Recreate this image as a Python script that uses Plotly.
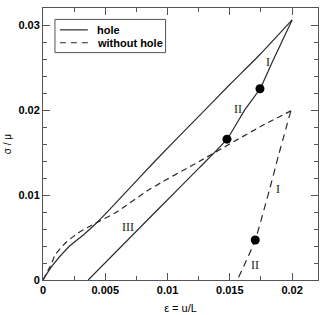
import plotly.graph_objects as go

# ---- data ----
hole_load_x = [0, 0.0007, 0.002, 0.0034, 0.0045, 0.006, 0.009, 0.0126, 0.015, 0.0174, 0.02]
hole_load_y = [0, 0.0016, 0.0038, 0.0055, 0.0070, 0.0093, 0.0140, 0.0194, 0.0230, 0.0265, 0.0306]
hole_unload_x = [0.02, 0.01843, 0.01742, 0.01624, 0.01477, 0.0126, 0.00936, 0.00363]
hole_unload_y = [0.0306, 0.0257, 0.0225, 0.0201, 0.01657, 0.01327, 0.0085, 0.0]
hole_dots_x = [0.01742, 0.01477]
hole_dots_y = [0.0225, 0.01657]

nohole_load_x = [0, 0.0007, 0.001, 0.0019, 0.0028, 0.0036, 0.0045, 0.0058, 0.0086, 0.0126, 0.0174, 0.0199]
nohole_load_y = [0, 0.0020, 0.0030, 0.0045, 0.0055, 0.0062, 0.0069, 0.0079, 0.0107, 0.0140, 0.0180, 0.0199]
nohole_unload_x = [0.0199, 0.0189, 0.0182, 0.01704, 0.0163, 0.0156]
nohole_unload_y = [0.0199, 0.0146, 0.0107, 0.0047, 0.0022, 0.0]
nohole_dots_x = [0.01704]
nohole_dots_y = [0.0047]

labels_text = ["I", "II", "III", "I", "II"]
labels_x = [0.01803, 0.01563, 0.00683, 0.01883, 0.01704]
labels_y = [0.0257, 0.0201, 0.00627, 0.01066, 0.00179]

legend_names = ["hole", "without hole"]

x_tickvals = [0, 0.005, 0.01, 0.015, 0.02]
x_ticktext = ["0", "0.005", "0.01", "0.015", "0.02"]
y_tickvals = [0, 0.01, 0.02, 0.03]
y_ticktext = ["0", "0.01", "0.02", "0.03"]

LC = "#2a2a2a"
DASH = "6px,4px"
FRAME = "#555"

fig = go.Figure()
fig.add_trace(go.Scatter(x=hole_load_x, y=hole_load_y, mode="lines", name=legend_names[0],
                         line=dict(color=LC, width=1.2, shape="spline", smoothing=0.6),
                         showlegend=False))
fig.add_trace(go.Scatter(x=hole_unload_x, y=hole_unload_y, mode="lines", showlegend=False,
                         line=dict(color=LC, width=1.2, shape="spline", smoothing=0.5)))
fig.add_trace(go.Scatter(x=nohole_load_x, y=nohole_load_y, mode="lines", name=legend_names[1],
                         line=dict(color=LC, width=1.2, dash=DASH, shape="spline", smoothing=0.6),
                         showlegend=False))
fig.add_trace(go.Scatter(x=nohole_unload_x, y=nohole_unload_y, mode="lines", showlegend=False,
                         line=dict(color=LC, width=1.2, dash="7px,5px", shape="spline", smoothing=0.5)))
fig.add_trace(go.Scatter(x=hole_dots_x + nohole_dots_x, y=hole_dots_y + nohole_dots_y,
                         mode="markers", showlegend=False,
                         marker=dict(color="black", size=9)))

for t, x, y in zip(labels_text, labels_x, labels_y):
    fig.add_annotation(x=x, y=y, text=t, showarrow=False,
                       font=dict(family="Liberation Serif", size=12, color="#222"))

# manual legend box (paper coordinates)
fig.add_shape(type="rect", xref="paper", yref="paper", x0=0.0435, x1=0.4457, y0=0.836, y1=0.958,
              line=dict(color=FRAME, width=1), fillcolor="white", layer="above")
leg_y = [0.9197, 0.8723]
leg_dash = ["solid", "6px,5px"]
for name, yy, d in zip(legend_names, leg_y, leg_dash):
    fig.add_shape(type="line", xref="paper", yref="paper", x0=0.0616, x1=0.163, y0=yy, y1=yy,
                  line=dict(color=LC, width=1.2, dash=d), layer="above")
    fig.add_annotation(xref="paper", yref="paper", x=0.188, y=yy, text=name, showarrow=False,
                       xanchor="left", yanchor="middle",
                       font=dict(family="Liberation Sans", size=11, color="black", weight="bold"))

axis_common = dict(showline=True, linecolor=FRAME, linewidth=1, mirror="allticks",
                   ticks="inside", ticklen=7, tickcolor=FRAME, tickwidth=1,
                   showgrid=False, zeroline=False,
                   tickfont=dict(family="Liberation Sans", size=11, color="black", weight="bold"))

fig.update_xaxes(range=[0, 0.02208], tickvals=x_tickvals, ticktext=x_ticktext,
                 minor=dict(dtick=0.0025, ticks="inside", ticklen=4, tickcolor=FRAME, showgrid=False),
                 title=dict(text="ε = u/L", standoff=9,
                            font=dict(family="Liberation Sans", size=11, color="black")),
                 **axis_common)
fig.update_yaxes(range=[0, 0.032], tickvals=y_tickvals, ticktext=y_ticktext,
                 minor=dict(dtick=0.002, ticks="inside", ticklen=4, tickcolor=FRAME, showgrid=False),
                 title=dict(text="σ / μ", standoff=4,
                            font=dict(family="Liberation Sans", size=10, color="black")),
                 **axis_common)

fig.update_layout(width=321, height=315, margin=dict(l=43, r=2, t=8, b=33),
                  plot_bgcolor="white", paper_bgcolor="white", showlegend=False)

fig.write_html("out.html")
